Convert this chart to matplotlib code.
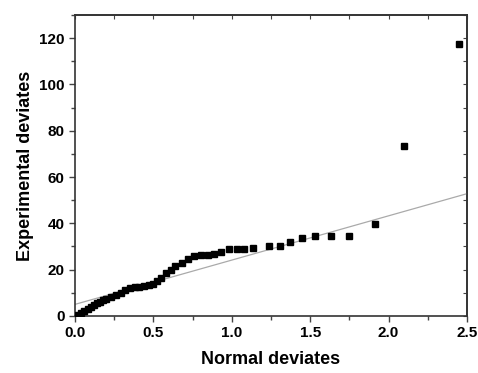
import matplotlib
matplotlib.use("Agg")
import matplotlib.pyplot as plt
from matplotlib.ticker import MultipleLocator

plt.rcParams['font.family'] = ['Liberation Sans', 'DejaVu Sans']

normal_dev = [0.0, 0.02, 0.04, 0.06, 0.08, 0.10, 0.12, 0.14, 0.16, 0.18, 0.20,
              0.23, 0.26, 0.29, 0.32, 0.35, 0.38, 0.41, 0.44, 0.47, 0.50, 0.52,
              0.55, 0.577, 0.61, 0.64, 0.68, 0.72, 0.76, 0.805, 0.85, 0.885,
              0.93, 0.985, 1.03, 1.08, 1.135, 1.24, 1.305, 1.37, 1.45, 1.53,
              1.63, 1.75, 1.91, 2.098, 2.45]
exp_dev = [0.0, 0.5, 1.2, 2.0, 3.0, 3.8, 4.6, 5.4, 6.2, 6.8, 7.5,
           8.3, 9.2, 10.0, 11.0, 12.0, 12.4, 12.6, 12.8, 13.2, 14.0, 15.0,
           16.2, 18.5, 20.0, 21.5, 22.9, 24.4, 25.8, 26.1, 26.2, 26.7,
           27.5, 28.7, 29.1, 29.1, 29.4, 30.2, 30.2, 32.0, 33.8, 34.4,
           34.5, 34.5, 39.6, 73.3, 117.3]
fit_x = [0.0, 2.5]
fit_y = [5.0, 52.8]

fig = plt.figure(figsize=(4.78, 3.73), dpi=100)
ax = fig.add_axes([0.157, 0.153, 0.820, 0.807])

ax.plot(fit_x, fit_y, color='#aaaaaa', lw=0.9, zorder=2)
ax.plot(normal_dev, exp_dev, 's', color='black', ms=4.6, zorder=3)

ax.set_xlim(0, 2.5)
ax.set_ylim(0, 130)
ax.xaxis.set_major_locator(MultipleLocator(0.5))
ax.xaxis.set_minor_locator(MultipleLocator(0.25))
ax.yaxis.set_major_locator(MultipleLocator(20))
ax.yaxis.set_minor_locator(MultipleLocator(10))
ax.xaxis.set_major_formatter(plt.FuncFormatter(lambda v, p: f"{v:.1f}"))

ax.tick_params(which='both', direction='out', top=False, right=False,
               color='#444444', labelsize=11)
ax.tick_params(which='major', length=4, width=1)
ax.tick_params(which='minor', length=3, width=1)
for lab in ax.get_xticklabels() + ax.get_yticklabels():
    lab.set_fontweight('bold')

sx = ax.secondary_xaxis('top')
sx.xaxis.set_major_locator(MultipleLocator(0.25))
sx.tick_params(direction='in', length=3, labeltop=False, color='#444444')
sy = ax.secondary_yaxis('right')
sy.yaxis.set_major_locator(MultipleLocator(10))
sy.tick_params(direction='in', length=3, labelright=False, color='#444444')

for s in ax.spines.values():
    s.set_color('#333333')
    s.set_linewidth(1.2)
for s in list(sx.spines.values()) + list(sy.spines.values()):
    s.set_color('#333333')
    s.set_linewidth(1.2)

ax.set_xlabel('Normal deviates', fontsize=13, fontweight='bold', labelpad=8)
ax.set_ylabel('Experimental deviates', fontsize=13, fontweight='bold', labelpad=4)

fig.savefig('out.png', dpi=100)
